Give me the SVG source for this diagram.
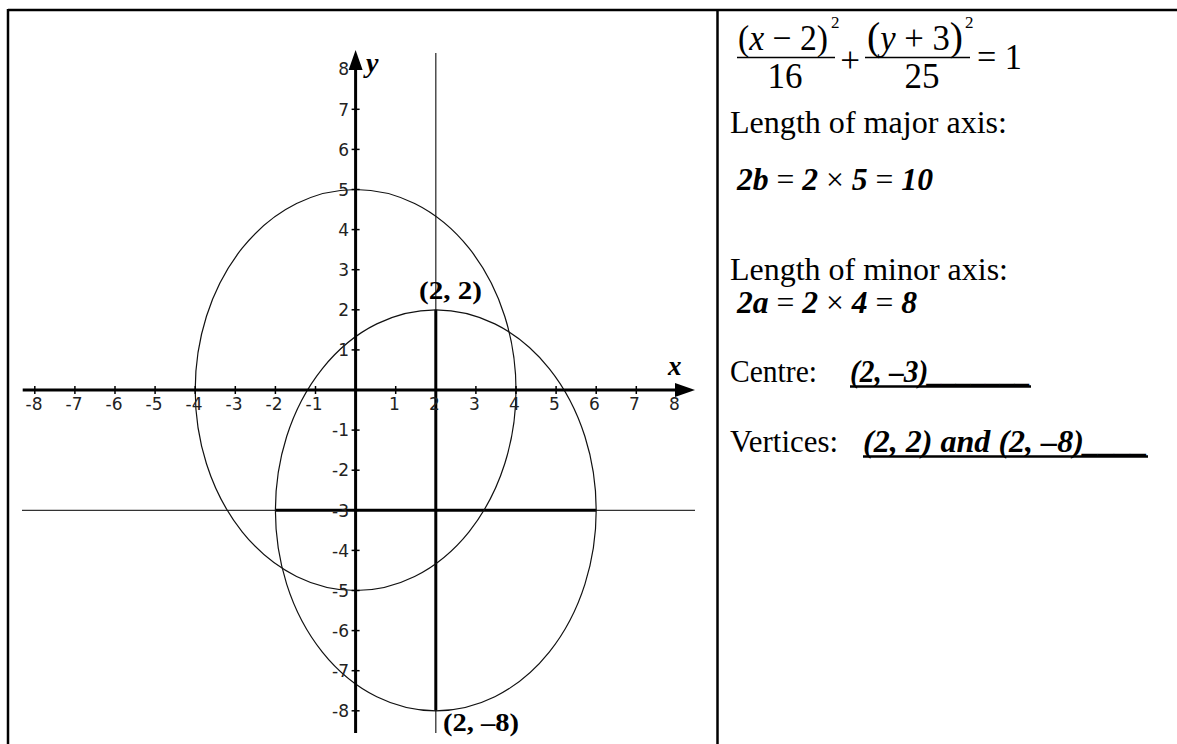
<svg xmlns="http://www.w3.org/2000/svg" width="1177" height="744" viewBox="0 0 1177 744">
<defs>
<style>
.border{stroke:#000;stroke-width:2.5;fill:none}
.axis{stroke:#000;stroke-width:3;fill:none}
.thin{stroke:#333;stroke-width:1.3;fill:none}
.thick{stroke:#000;stroke-width:3;fill:none}
.ell{stroke:#111;stroke-width:1.2;fill:none}
.tick{stroke:#000;stroke-width:1.5}
.uline{stroke:#000;stroke-width:2.5}
.tl{font-family:"DejaVu Sans",sans-serif;font-size:17px;fill:#222}
.tx{text-anchor:middle}
.ty{text-anchor:end}
.serif{font-family:"Liberation Serif","Times New Roman",serif;fill:#000}
.body{font-size:31px}
.eq{font-size:35px}
.b{font-weight:bold}
.i{font-style:italic}
.bi{font-weight:bold;font-style:italic}
</style>
</defs>
<rect width="1177" height="744" fill="#fff"/>
<g id="table">
<line class="border" x1="8" y1="10" x2="1177" y2="10"/>
<line class="border" x1="8" y1="9" x2="8" y2="744"/>
<line class="border" x1="717.5" y1="10" x2="717.5" y2="744"/>
</g>
<g id="graph">
<g id="guides">
<line class="thin" x1="435.8" y1="53" x2="435.8" y2="733"/>
<line class="thin" x1="22" y1="510.3" x2="695" y2="510.3"/>
<line class="thick" x1="435.8" y1="309.8" x2="435.8" y2="710.8"/>
<line class="thick" x1="275.4" y1="510.3" x2="596.2" y2="510.3"/>
</g>
<g id="ellipses">
<ellipse class="ell" cx="355.6" cy="390" rx="160.4" ry="200.5"/>
<ellipse class="ell" cx="435.8" cy="510.3" rx="160.4" ry="200.5"/>
</g>
<g id="axes">
<line class="axis" x1="22.7" y1="390" x2="680" y2="390"/>
<polygon points="695,390 675,383 675,397" fill="#000"/>
<line class="axis" x1="355.6" y1="65" x2="355.6" y2="733"/>
<polygon points="355.6,50 348.6,70 362.6,70" fill="#000"/>
<g id="xticks">
<line class="tick" x1="34.8" y1="386" x2="34.8" y2="394"/>
<line class="tick" x1="74.9" y1="386" x2="74.9" y2="394"/>
<line class="tick" x1="115" y1="386" x2="115" y2="394"/>
<line class="tick" x1="155.1" y1="386" x2="155.1" y2="394"/>
<line class="tick" x1="195.2" y1="386" x2="195.2" y2="394"/>
<line class="tick" x1="235.3" y1="386" x2="235.3" y2="394"/>
<line class="tick" x1="275.4" y1="386" x2="275.4" y2="394"/>
<line class="tick" x1="315.5" y1="386" x2="315.5" y2="394"/>
<line class="tick" x1="395.7" y1="386" x2="395.7" y2="394"/>
<line class="tick" x1="435.8" y1="386" x2="435.8" y2="394"/>
<line class="tick" x1="475.9" y1="386" x2="475.9" y2="394"/>
<line class="tick" x1="516" y1="386" x2="516" y2="394"/>
<line class="tick" x1="556.1" y1="386" x2="556.1" y2="394"/>
<line class="tick" x1="596.2" y1="386" x2="596.2" y2="394"/>
<line class="tick" x1="636.3" y1="386" x2="636.3" y2="394"/>
<line class="tick" x1="676.4" y1="386" x2="676.4" y2="394"/>
</g>
<g id="yticks">
<line class="tick" x1="351.6" y1="69.2" x2="359.6" y2="69.2"/>
<line class="tick" x1="351.6" y1="109.3" x2="359.6" y2="109.3"/>
<line class="tick" x1="351.6" y1="149.4" x2="359.6" y2="149.4"/>
<line class="tick" x1="351.6" y1="189.5" x2="359.6" y2="189.5"/>
<line class="tick" x1="351.6" y1="229.6" x2="359.6" y2="229.6"/>
<line class="tick" x1="351.6" y1="269.7" x2="359.6" y2="269.7"/>
<line class="tick" x1="351.6" y1="309.8" x2="359.6" y2="309.8"/>
<line class="tick" x1="351.6" y1="349.9" x2="359.6" y2="349.9"/>
<line class="tick" x1="351.6" y1="430.1" x2="359.6" y2="430.1"/>
<line class="tick" x1="351.6" y1="470.2" x2="359.6" y2="470.2"/>
<line class="tick" x1="351.6" y1="510.3" x2="359.6" y2="510.3"/>
<line class="tick" x1="351.6" y1="550.4" x2="359.6" y2="550.4"/>
<line class="tick" x1="351.6" y1="590.5" x2="359.6" y2="590.5"/>
<line class="tick" x1="351.6" y1="630.6" x2="359.6" y2="630.6"/>
<line class="tick" x1="351.6" y1="670.7" x2="359.6" y2="670.7"/>
<line class="tick" x1="351.6" y1="710.8" x2="359.6" y2="710.8"/>
</g>
<g id="xlabels" class="tl tx">
<text x="34" y="410">-8</text>
<text x="74" y="410">-7</text>
<text x="114" y="410">-6</text>
<text x="154" y="410">-5</text>
<text x="194" y="410">-4</text>
<text x="234" y="410">-3</text>
<text x="274" y="410">-2</text>
<text x="314" y="410">-1</text>
<text x="394.5" y="410">1</text>
<text x="434.5" y="410">2</text>
<text x="474.5" y="410">3</text>
<text x="514.5" y="410">4</text>
<text x="554.5" y="410">5</text>
<text x="594.5" y="410">6</text>
<text x="634.5" y="410">7</text>
<text x="674.5" y="410">8</text>
</g>
<g id="ylabels" class="tl ty">
<text x="349" y="75.4">8</text>
<text x="349" y="115.5">7</text>
<text x="349" y="155.6">6</text>
<text x="349" y="195.7">5</text>
<text x="349" y="235.8">4</text>
<text x="349" y="275.9">3</text>
<text x="349" y="316">2</text>
<text x="349" y="356.1">1</text>
<text x="349" y="436.3">-1</text>
<text x="349" y="476.4">-2</text>
<text x="349" y="516.5">-3</text>
<text x="349" y="556.6">-4</text>
<text x="349" y="596.7">-5</text>
<text x="349" y="636.8">-6</text>
<text x="349" y="676.9">-7</text>
<text x="349" y="717">-8</text>
</g>
<text class="serif bi" x="366" y="72" font-size="28">y</text>
<text class="serif bi" x="668" y="375" font-size="27">x</text>
</g>
<g id="point-labels" class="serif b">
<text x="419" y="299" font-size="26" textLength="63" lengthAdjust="spacingAndGlyphs">(2, 2)</text>
<text x="443" y="731" font-size="26" textLength="76" lengthAdjust="spacingAndGlyphs">(2, –8)</text>
</g>
</g>
<g id="panel" class="serif">
<g id="equation" class="eq">
<text x="738" y="50" textLength="90" lengthAdjust="spacingAndGlyphs">(<tspan class="i">x</tspan> − 2)</text>
<text x="831" y="28" font-size="17">2</text>
<line x1="737" y1="57.5" x2="835" y2="57.5" stroke="#000" stroke-width="1.5"/>
<text x="785" y="88" text-anchor="middle">16</text>
<text x="850" y="72" text-anchor="middle">+</text>
<text x="867" y="50" textLength="96" lengthAdjust="spacingAndGlyphs"><tspan font-size="40">(</tspan><tspan class="i">y</tspan> + 3<tspan font-size="40">)</tspan></text>
<text x="965" y="28" font-size="17">2</text>
<line x1="865" y1="57.5" x2="970" y2="57.5" stroke="#000" stroke-width="1.5"/>
<text x="922" y="88" text-anchor="middle">25</text>
<text x="977" y="69" textLength="45" lengthAdjust="spacingAndGlyphs">= 1</text>
</g>
<g id="answers" class="body">
<text x="730" y="133" textLength="277" lengthAdjust="spacingAndGlyphs">Length of major axis:</text>
<text x="737" y="190" textLength="196" lengthAdjust="spacingAndGlyphs"><tspan class="bi">2b</tspan> = <tspan class="bi">2</tspan> × <tspan class="bi">5</tspan> = <tspan class="bi">10</tspan></text>
<text x="730" y="280" textLength="278" lengthAdjust="spacingAndGlyphs">Length of minor axis:</text>
<text x="737" y="313" textLength="180" lengthAdjust="spacingAndGlyphs"><tspan class="bi">2a</tspan> = <tspan class="bi">2</tspan> × <tspan class="bi">4</tspan> = <tspan class="bi">8</tspan></text>
<text x="730" y="382" textLength="87" lengthAdjust="spacingAndGlyphs">Centre:</text>
<text class="bi" x="850" y="382" textLength="181" lengthAdjust="spacingAndGlyphs">(2, –3)_______</text>
<line class="uline" x1="850" y1="386.5" x2="1031" y2="386.5"/>
<text x="730" y="452" textLength="108" lengthAdjust="spacingAndGlyphs">Vertices:</text>
<text class="bi" x="863" y="452" textLength="285" lengthAdjust="spacingAndGlyphs">(2, 2) and (2, –8)____</text>
<line class="uline" x1="863" y1="456.5" x2="1148" y2="456.5"/>
</g>
</g>
</svg>
